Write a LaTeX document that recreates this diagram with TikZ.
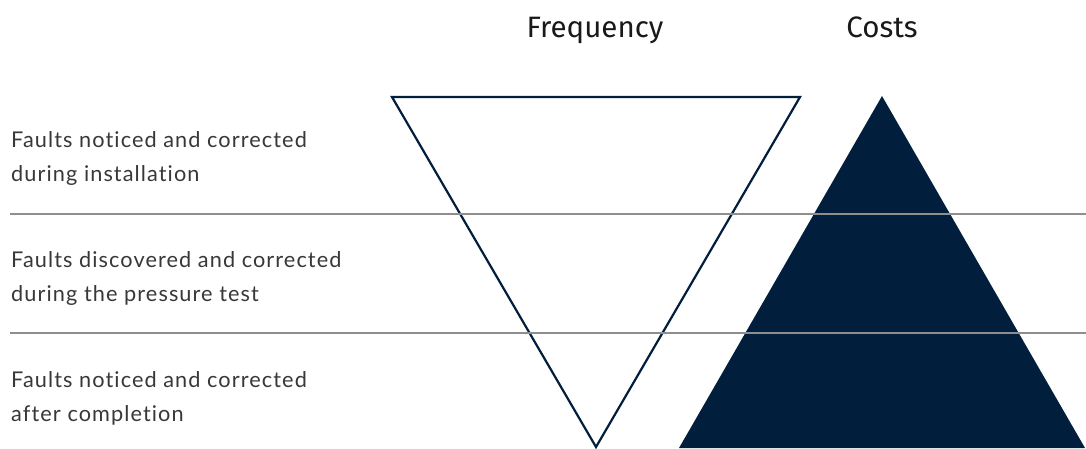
\documentclass[tikz,border=0pt]{standalone}
\usepackage{fontspec}
\setmainfont{Lato}[LetterSpace=5, Ligatures={NoCommon,NoRare,NoDiscretionary}]
\newfontfamily\headfont{Fira Sans}
\definecolor{navy}{HTML}{011F3C}
\definecolor{rulegray}{HTML}{8E8E8E}
\definecolor{labeltext}{HTML}{383838}
\begin{document}
\begin{tikzpicture}[x=1pt,y=-1pt,
  heading/.style={font=\headfont\fontsize{29.5}{34}\selectfont, text=black!90, anchor=base, inner sep=0pt},
  rowlabel/.style={font=\fontsize{21.7}{34}\selectfont, text=labeltext, anchor=base west, inner sep=0pt, align=left},
  divider/.style={draw=rulegray, line width=1.6pt}]
\useasboundingbox (0,0) rectangle (1086,448);
\fill[white] (0,0) rectangle (1086,448);

% frequency: inverted outline triangle
\coordinate (fl) at (392,97);
\coordinate (fr) at (800,97);
\coordinate (fb) at (596,447);
\draw[navy, line width=2.2pt, line join=miter] (fl) -- (fr) -- (fb) -- cycle;

% costs: filled triangle
\coordinate (ct) at (882,96);
\coordinate (cl) at (679,448);
\coordinate (cr) at (1085,448);
\fill[navy] (ct) -- (cr) -- (cl) -- cycle;

% row dividers
\coordinate (d1a) at (10,214);
\coordinate (d1b) at (1086,214);
\coordinate (d2a) at (10,333);
\coordinate (d2b) at (1086,333);
\draw[divider] (d1a) -- (d1b);
\draw[divider] (d2a) -- (d2b);

% headings
\node[heading] (freq) at (595,37) {Frequency};
\node[heading] (cost) at (882,37) {Costs};

% row labels
\node[rowlabel] (r1a) at (11,147) {Faults noticed and corrected};
\node[rowlabel] (r1b) at (11,181) {during installation};
\node[rowlabel] (r2a) at (11,267) {Faults discovered and corrected};
\node[rowlabel] (r2b) at (11,301) {during the pressure test};
\node[rowlabel] (r3a) at (11,387) {Faults noticed and corrected};
\node[rowlabel] (r3b) at (11,421) {after completion};
\end{tikzpicture}
\end{document}
